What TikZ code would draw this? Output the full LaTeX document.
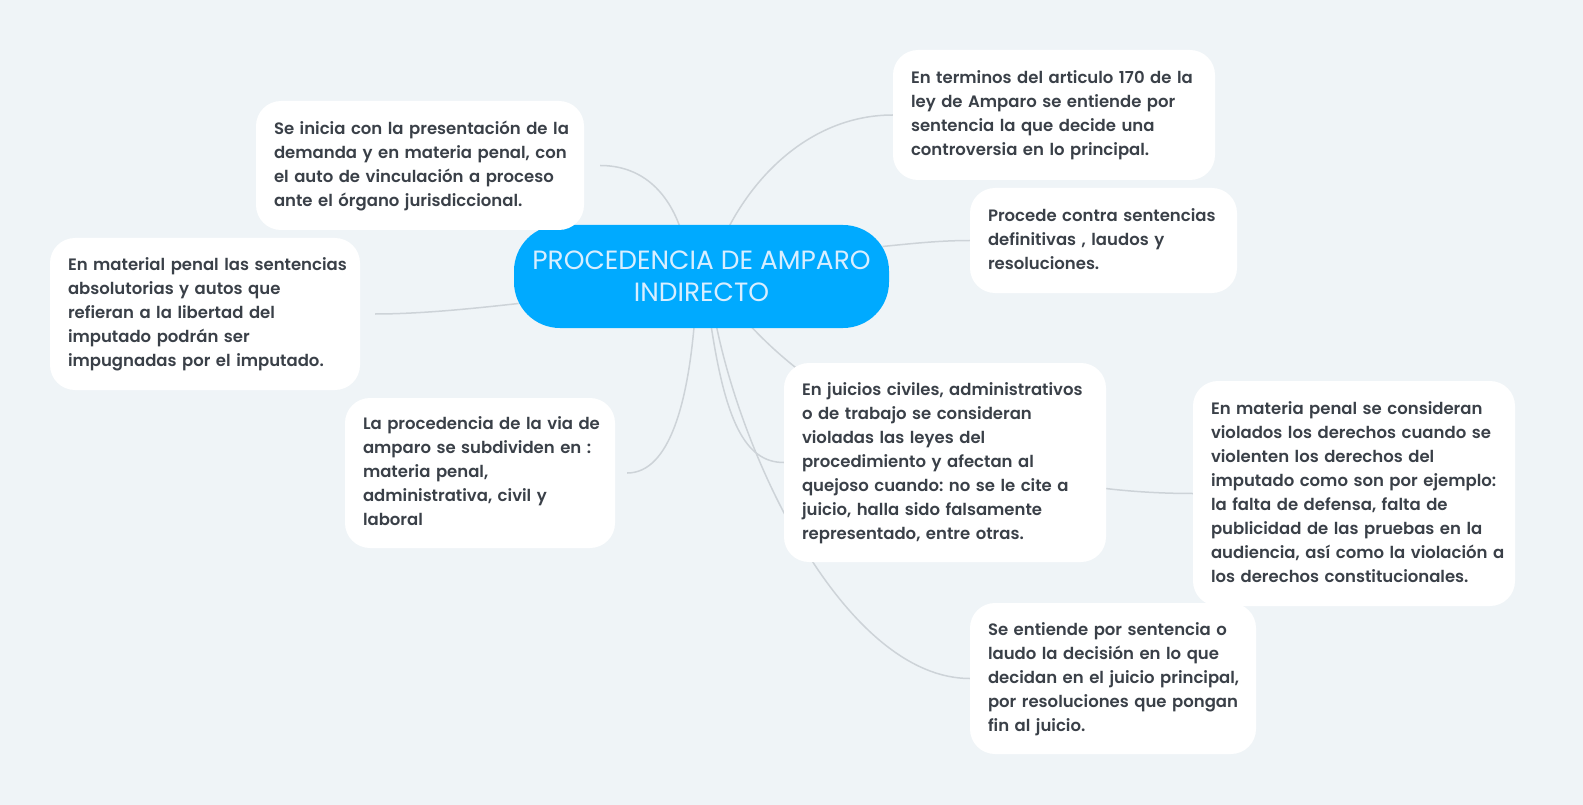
\documentclass[tikz,border=0pt]{standalone}
\usepackage{fontspec}
\setmainfont{Poppins}[UprightFont=* SemiBold, BoldFont=* Bold]
\newfontfamily\rootfont{Poppins}
\usetikzlibrary{calc}
\definecolor{bgc}{RGB}{239,244,247}
\definecolor{txt}{RGB}{58,64,72}
\definecolor{linec}{RGB}{205,211,216}
\definecolor{rootfill}{RGB}{0,170,255}
\definecolor{roottxt}{RGB}{216,238,255}
\pgfdeclarelayer{background}
\pgfsetlayers{background,main}
\newcommand\mylines[1]{\begin{tabular}{@{}l@{}}#1\end{tabular}}
\frenchspacing
\begin{document}
\begin{tikzpicture}[x=1pt,y=-1pt,
  leaf/.style={fill=white, rounded corners=25pt, text=txt, inner xsep=18pt, inner ysep=0pt,
    align=left, font=\frenchspacing\fontsize{16.5}{24}\selectfont},
  rootbox/.style={fill=rootfill, rounded corners=46pt, text=roottxt, inner sep=0pt,
    align=center, font=\rootfont\fontsize{26.4}{32.3}\selectfont},
  conn/.style={draw=linec, line width=1.5pt}]
\useasboundingbox (0,0) rectangle (1583,805);

\node[rootbox, minimum width=375pt, minimum height=103pt] (root) at (701.5,276.5)
  {PROCEDENCIA DE AMPARO\\INDIRECTO};

\node[leaf, minimum width=328pt, minimum height=129pt, text width=292pt] (n1) at (420,165.5)
  {\mylines{Se inicia con la presentación de la\\demanda y en materia penal, con\\el auto de vinculación a proceso\\ante el órgano jurisdiccional.}};

\node[leaf, minimum width=310pt, minimum height=152pt, text width=274pt] (n2) at (205,314)
  {\mylines{En material penal las sentencias\\absolutorias y autos que\\refieran a la libertad del\\imputado podrán ser\\impugnadas por el imputado.}};

\node[leaf, minimum width=270pt, minimum height=150pt, text width=234pt] (n3) at (480,473)
  {\mylines{La procedencia de la via de\\amparo se subdividen en :\\materia penal,\\administrativa, civil y\\laboral}};

\node[leaf, minimum width=322pt, minimum height=130pt, text width=286pt] (n5) at (1054,115)
  {\mylines{En terminos del articulo 170 de la\\ley de Amparo se entiende por\\sentencia la que decide una\\controversia en lo principal.}};

\node[leaf, minimum width=267pt, minimum height=105pt, text width=231pt] (n6) at (1103.5,240.5)
  {\mylines{Procede contra sentencias\\definitivas , laudos y\\resoluciones.}};

\node[leaf, minimum width=322pt, minimum height=199pt, text width=286pt] (n7) at (945,462.5)
  {\mylines{En juicios civiles, administrativos\\o de trabajo se consideran\\violadas las leyes del\\procedimiento y afectan al\\quejoso cuando: no se le cite a\\juicio, halla sido falsamente\\representado, entre otras.}};

\node[leaf, minimum width=322pt, minimum height=225pt, text width=286pt] (n8) at (1354,493.5)
  {\mylines{En materia penal se consideran\\violados los derechos cuando se\\violenten los derechos del\\imputado como son por ejemplo:\\la falta de defensa, falta de\\publicidad de las pruebas en la\\audiencia, así como la violación a\\los derechos constitucionales.}};

\node[leaf, minimum width=286pt, minimum height=151pt, text width=250pt] (n9) at (1113,678.5)
  {\mylines{Se entiende por sentencia o\\laudo la decisión en lo que\\decidan en el juicio principal,\\por resoluciones que pongan\\fin al juicio.}};

\begin{pgfonlayer}{background}
\fill[bgc] (0,0) rectangle (1583,805);
\draw[conn] ([shift={(-20,-45)}]root.center) .. controls +(-13.5,-41.5) and +(40,0) .. ([xshift=16pt]n1.east);
\draw[conn] ([shift={(25,-45)}]root.center) .. controls +(33.5,-66.5) and +(-73,0) .. (n5.west);
\draw[conn] ([shift={(181,-30)}]root.center) .. controls +(30,-3) and +(-30,0) .. (n6.west);
\draw[conn] ([shift={(-183,27)}]root.center) .. controls +(-45,5) and +(45,0) .. ([xshift=15pt]n2.east);
\draw[conn] ([shift={(-7,45)}]root.center) .. controls +(-6.5,78.5) and +(43,0) .. ([xshift=12pt]n3.east);
\draw[conn] ([shift={(9,45)}]root.center) .. controls +(14.5,98.5) and +(-39,0) .. (n7.west);
\draw[conn] ([shift={(14,45)}]root.center) .. controls +(29.5,148.5) and +(-120,0) .. (n9.west);
\draw[conn] ([shift={(45,45)}]root.center) .. controls +(90,100) and +(-193,0) .. (n8.west);
\end{pgfonlayer}
\end{tikzpicture}
\end{document}
